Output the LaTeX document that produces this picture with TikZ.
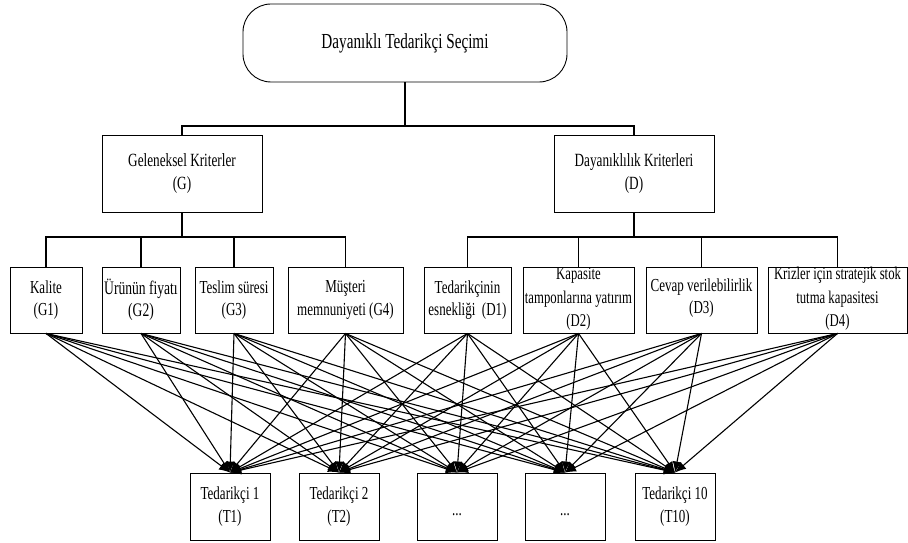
\documentclass[tikz,border=0pt]{standalone}
\usepackage{fontspec}
\setmainfont[FakeStretch=0.71]{Liberation Serif}
\usetikzlibrary{arrows.meta}
\begin{document}
\begin{tikzpicture}[x=1bp,y=-1bp,
  boxstyle/.style={draw=black,line width=0.9bp,fill=white,inner sep=0pt,minimum height=66bp},
  txt/.style={align=center,inner sep=0pt,font=\fontsize{18.4}{22.5}\selectfont},
  bigtxt/.style={align=center,inner sep=0pt,font=\fontsize{18.7}{22.5}\selectfont},
  conn/.style={line width=1.1bp,black},
  arr/.style={line width=1.1bp,black,-{Latex[length=11bp,width=9bp]}}]
\useasboundingbox (0,0) rectangle (908,543);
% top
\node[draw=black,line width=0.9bp,rounded corners=28bp,minimum width=324bp,minimum height=78bp,inner sep=0pt,font=\fontsize{21.5}{22}\selectfont] (top) at (405,43) {Dayanıklı Tedarikçi Seçimi};
% level 2
\node[boxstyle,minimum width=160bp,minimum height=77bp] (G) at (182,173.5) {};
\node[bigtxt] at (G) {Geleneksel Kriterler\\(G)};
\node[boxstyle,minimum width=160bp,minimum height=77bp] (D) at (634,173.5) {};
\node[bigtxt] at (D) {Dayanıklılık Kriterleri\\(D)};
% level 3
\node[boxstyle,minimum width=72bp] (G1) at (46,300) {};
\node[txt] at (G1) {Kalite\\(G1)};
\node[boxstyle,minimum width=78bp] (G2) at (141,300) {};
\node[txt,font=\fontsize{19.2}{22.5}\selectfont] at (G2) {Ürünün fiyatı\\(G2)};
\node[boxstyle,minimum width=78bp] (G3) at (234,300) {};
\node[txt] at (G3) {Teslim süresi\\(G3)};
\node[boxstyle,minimum width=115bp] (G4) at (345.5,300) {};
\node[txt] at (G4) {Müşteri\\memnuniyeti (G4)};
\node[boxstyle,minimum width=87bp] (D1) at (467.5,300) {};
\node[txt] at (D1) {Tedarikçinin\\esnekliği\ \ (D1)};
\node[boxstyle,minimum width=111bp] (D2) at (578.5,300) {};
\node[txt,font=\fontsize{18}{23.5}\selectfont] at ([yshift=1bp]D2.center) {Kapasite\\tamponlarına yatırım\\(D2)};
\node[boxstyle,minimum width=111bp] (D3) at (701.5,300) {};
\node[txt] at ([yshift=2bp]D3.center) {Cevap verilebilirlik\\(D3)};
\node[boxstyle,minimum width=139bp] (D4) at (837.5,300) {};
\node[txt,font=\fontsize{18}{23.5}\selectfont] at ([yshift=1bp]D4.center) {Krizler için stratejik stok\\tutma kapasitesi\\(D4)};
% bottom
\node[boxstyle,minimum width=80bp,minimum height=67bp] (T1) at (230,506.5) {};
\node[txt] at (T1) {Tedarikçi 1\\(T1)};
\node[boxstyle,minimum width=80bp,minimum height=67bp] (T2) at (339,506.5) {};
\node[txt] at (T2) {Tedarikçi 2\\(T2)};
\node[boxstyle,minimum width=80bp,minimum height=67bp] (E1) at (457,506.5) {};
\node[txt] at ([yshift=-8bp]E1.center) {...};
\node[boxstyle,minimum width=80bp,minimum height=67bp] (E2) at (565,506.5) {};
\node[txt] at ([yshift=-8bp]E2.center) {...};
\node[boxstyle,minimum width=80bp,minimum height=67bp] (T10) at (675,506.5) {};
\node[txt] at (T10) {Tedarikçi 10\\(T10)};
% bus coordinates
\coordinate (b1) at (408,126);
\coordinate (b2) at (408,237);
% tree connectors
\draw[conn] (top.south) -- (top.south |- b1);
\draw[conn] (G.north) |- (b1) -| (D.north);
\draw[conn] (G.south) -- (G.south |- b2);
\draw[conn] (D.south) -- (D.south |- b2);
\draw[conn] (G1.north) |- (G.south |- b2) -| (G4.north);
\draw[conn] (G2.north) -- (G2.north |- b2);
\draw[conn] (G3.north) -- (G3.north |- b2);
\draw[conn] (D1.north) |- (D.south |- b2) -| (D4.north);
\draw[conn] (D2.north) -- (D2.north |- b2);
\draw[conn] (D3.north) -- (D3.north |- b2);
% arrows
\foreach \s in {G1,G2,G3,G4,D1,D2,D3,D4}
  \foreach \t in {T1,T2,E1,E2,T10}
    \draw[arr] (\s.south) -- (\t.north);
\end{tikzpicture}
\end{document}
